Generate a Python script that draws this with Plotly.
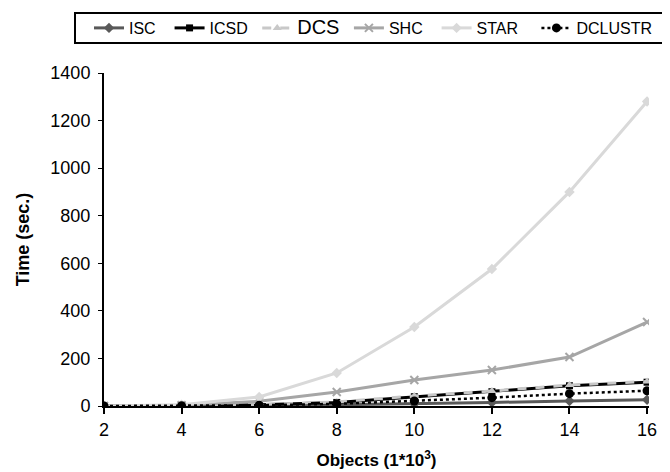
import plotly.graph_objects as go

objects = [2, 4, 6, 8, 10, 12, 14, 16]
isc = [0, 0.5, 2, 5, 9, 15, 21, 26]
icsd = [0, 1, 5, 15, 39, 60, 85, 100]
dcs = [0, 1, 6, 17, 42, 63, 88, 103]
shc = [0, 3, 20, 59, 109, 151, 206, 353]
star = [0, 5, 38, 139, 332, 576, 900, 1280]
dclustr = [0, 1, 3, 9, 21, 35, 52, 64]

NB = "\u00a0"
fig = go.Figure()

def add(name, y, color, width, dash, symbol, msize):
    fig.add_trace(go.Scatter(
        x=objects, y=y, name=name, mode="lines+markers",
        line=dict(color=color, width=width, dash=dash),
        marker=dict(symbol=symbol, size=msize, color=color, line=dict(width=0)),
    ))

add("ISC" + NB * 2, isc, "#595959", 3, "solid", "diamond", 8)
add("ICSD" + NB, icsd, "#000000", 3, "solid", "square", 7)
add('<span style="font-size:20px">DCS</span>' + NB, dcs, "#c8c8c8", 3, "dash", "triangle-up", 8)
add("SHC" + NB * 2, shc, "#a6a6a6", 3, "solid", "x-thin-open", 8)
add("STAR" + NB * 3, star, "#d9d9d9", 3, "solid", "diamond", 8)
add("DCLUSTR", dclustr, "#000000", 2.5, "dot", "circle", 9)
fig.data[3].marker.line = dict(width=2, color="#a6a6a6")

# page body adds an 8px offset; compensate in figure size/margins
W, H = 662, 464
L, R, T, B = 96, 21, 65, 66
pw, ph = W - L - R, H - T - B

def px_x(p):  # figure px -> paper x
    return (p - L) / pw

def px_y(p):  # figure px from top -> paper y
    return 1 + (T - p) / ph

fig.update_layout(
    width=W, height=H,
    paper_bgcolor="white", plot_bgcolor="white",
    margin=dict(l=L, r=R, t=T, b=B, autoexpand=False),
    font=dict(family="Liberation Sans, Arial, sans-serif", size=18, color="black"),
    showlegend=True,
    legend=dict(
        orientation="h", xref="paper", yref="paper",
        x=px_x(81), xanchor="left", y=px_y(20), yanchor="middle",
        borderwidth=0, bgcolor="rgba(0,0,0,0)",
        font=dict(size=16),
        tracegroupgap=0,
    ),
    shapes=[dict(
        type="rect", xref="paper", yref="paper",
        x0=px_x(67), x1=px_x(655), y0=px_y(35), y1=px_y(5),
        line=dict(color="black", width=2), fillcolor="rgba(0,0,0,0)",
    )],
    xaxis=dict(
        range=[2, 16.05], tickvals=objects, showgrid=False, zeroline=False,
        showline=True, linecolor="black", linewidth=2,
        ticks="outside", ticklen=6, tickwidth=2, tickcolor="black",
        automargin=False,
        title=dict(text="<b>Objects (1*10<sup>3</sup>)</b>", font=dict(size=17), standoff=16),
    ),
    yaxis=dict(
        range=[0, 1400], dtick=200, showgrid=False, zeroline=False,
        showline=True, linecolor="black", linewidth=2,
        ticks="outside", ticklen=4, tickwidth=1, tickcolor="black",
        ticklabelstandoff=4, automargin=False,
        title=dict(text="<b>Time (sec.)</b>", font=dict(size=18), standoff=16),
    ),
)

fig.write_html("out.html")
